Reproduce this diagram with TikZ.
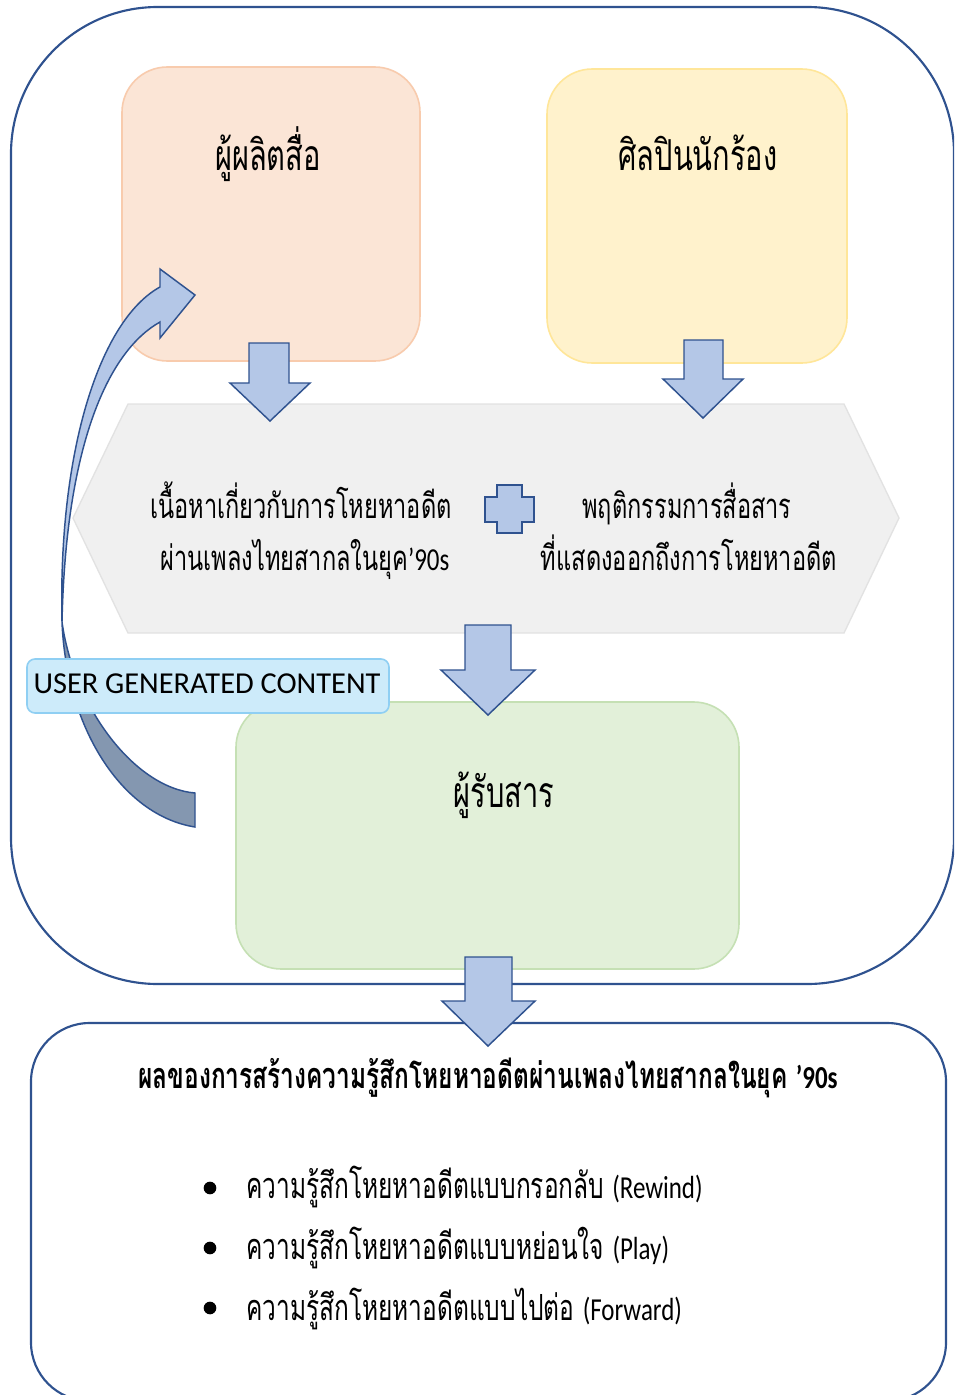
\documentclass[tikz,border=0pt]{standalone}
\usepackage{fontspec}
\newfontfamily\thai[Script=Thai,FakeStretch=0.68]{Loma}
\newfontfamily\lat{Carlito}
\newfontfamily\latn[FakeStretch=0.78]{Carlito}
\definecolor{navy}{HTML}{2F528F}
\definecolor{arrowfill}{HTML}{B4C7E7}
\definecolor{arrowdark}{HTML}{8497B0}
\definecolor{peach}{HTML}{FBE5D6}
\definecolor{peachline}{HTML}{F8CBAD}
\definecolor{cream}{HTML}{FFF2CC}
\definecolor{creamline}{HTML}{FFE699}
\definecolor{hexfill}{HTML}{F0F0F0}
\definecolor{hexline}{HTML}{E2E2E2}
\definecolor{mint}{HTML}{E2F0D9}
\definecolor{mintline}{HTML}{C5E0B4}
\definecolor{sky}{HTML}{CDEBFA}
\definecolor{skyline}{HTML}{8FCFF3}
\begin{document}
\begin{tikzpicture}[x=0.75pt,y=-0.75pt,
  frame/.style={draw=navy,line width=1.6pt,fill=white},
  card/.style={rectangle,rounded corners=34pt,line width=1.2pt,inner sep=0pt},
  blockarrow/.style={draw=navy,fill=arrowfill,line width=1.1pt,line join=miter},
  title/.style={font=\thai\fontsize{32}{38}\selectfont,anchor=base,inner sep=0pt},
  body/.style={font=\thai\fontsize{26}{31}\selectfont,anchor=base,inner sep=0pt},
  heading/.style={font=\thai\bfseries\fontsize{27}{32}\selectfont,anchor=base,inner sep=0pt},
  item/.style={font=\thai\fontsize{27}{32}\selectfont,anchor=base west,inner sep=0pt},
  dot/.style={circle,fill=black,inner sep=0pt,minimum size=9.5pt},
  latin/.style={},
]
\clip (0,0) rectangle (954,1395);
% containers
\draw[frame,rounded corners=110pt] (11,7) rectangle (954,984);
\draw[frame,rounded corners=44pt] (31,1023) rectangle (946,1401);
% boxes
\node[card,fill=peach,draw=peachline,minimum width=223.5pt,minimum height=220.5pt] (prodbox) at (271,214) {};
\node[card,fill=cream,draw=creamline,minimum width=225pt,minimum height=220.5pt] (singbox) at (697,216) {};
\draw[fill=hexfill,draw=hexline,line width=1pt] (128,404) -- (844,404) -- (899,518) -- (844,633) -- (128,633) -- (73,518) -- cycle;
\coordinate (hex) at (486,518);
\node[card,fill=mint,draw=mintline,minimum width=377.25pt,minimum height=200.25pt] (recbox) at (487.5,835.5) {};
% curved arrow (user generated content loop)
\coordinate (turn) at (62,622);
\draw[blockarrow,fill=arrowdark] (turn) .. controls (66,725) and (120,815) .. (195,827) -- (195,793) .. controls (135,788) and (74,708) .. (turn) -- cycle;
\draw[blockarrow] (turn) .. controls (58,450) and (100,320) .. (160,287) -- (160,269) -- (195,295) -- (160,338) -- (160,322) .. controls (110,350) and (66,440) .. (turn) -- cycle;
% UGC label
\node[rectangle,rounded corners=6pt,fill=sky,draw=skyline,line width=1.2pt,minimum width=271.5pt,minimum height=40.5pt] (ugcbox) at (208,686) {};
\node[font=\lat\fontsize{22.8}{27}\selectfont,anchor=base,inner sep=0pt] (ugc) at (207,693) {USER GENERATED CONTENT};
% block arrows
\draw[blockarrow] (249,343) -- (289,343) -- (289,383) -- (310,383) -- (270,421) -- (230,383) -- (249,383) -- cycle;
\draw[blockarrow] (684,340) -- (723,340) -- (723,379) -- (743,379) -- (703,418) -- (663,379) -- (684,379) -- cycle;
\draw[blockarrow] (465,625) -- (511,625) -- (511,670) -- (535,670) -- (488,715) -- (441,670) -- (465,670) -- cycle;
\draw[blockarrow] (465,957) -- (512,957) -- (512,1001) -- (535,1001) -- (488,1046) -- (442,1001) -- (465,1001) -- cycle;
% plus
\draw[blockarrow] (497,485) -- (522,485) -- (522,497) -- (534,497) -- (534,522) -- (522,522) -- (522,533) -- (497,533) -- (497,522) -- (485,522) -- (485,497) -- (497,497) -- cycle;
% texts
\node[title] (producer) at (268,170) {ผู้ผลิตสื่อ};
\node[title] (singer) at (698,170) {ศิลปินนักร้อง};
\node[title] (receiver) at (504,807) {ผู้รับสาร};
\node[body] (c1) at (301,518) {เนื้อหาเกี่ยวกับการโหยหาอดีต};
\node[body] (c2) at (305,570) {ผ่านเพลงไทยสากลในยุค{\latn\fontsize{24}{28}\selectfont ’90s}};
\node[body] (d1) at (687,518) {พฤติกรรมการสื่อสาร};
\node[body] (d2) at (689,570) {ที่แสดงออกถึงการโหยหาอดีต};
\node[heading] (result) at (488,1088) {ผลของการสร้างความรู้สึกโหยหาอดีตผ่านเพลงไทยสากลในยุค {\latn\bfseries\fontsize{24}{28}\selectfont ’90s}};
\node[dot] (p1) at (210,1188) {};
\node[dot] (p2) at (210,1248) {};
\node[dot] (p3) at (210,1308) {};
\node[item] (i1) at (246,1198) {ความรู้สึกโหยหาอดีตแบบกรอกลับ {\latn\fontsize{24}{28}\selectfont (Rewind)}};
\node[item] (i2) at (246,1259) {ความรู้สึกโหยหาอดีตแบบหย่อนใจ {\latn\fontsize{24}{28}\selectfont (Play)}};
\node[item] (i3) at (246,1320) {ความรู้สึกโหยหาอดีตแบบไปต่อ {\latn\fontsize{24}{28}\selectfont (Forward)}};
\end{tikzpicture}
\end{document}
